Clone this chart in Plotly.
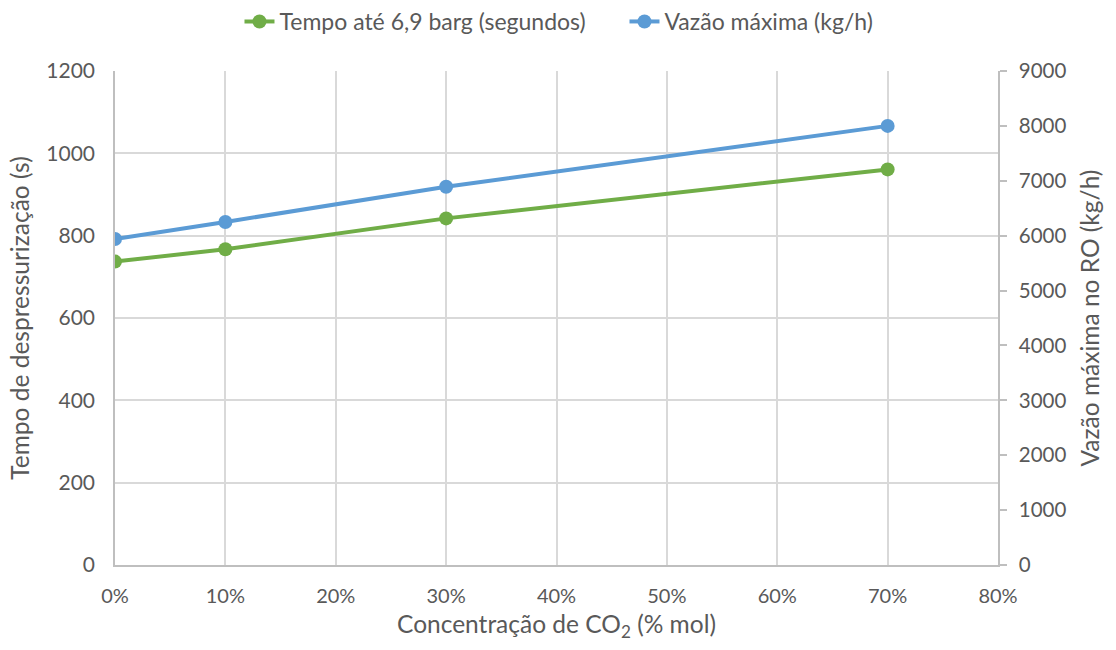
import plotly.graph_objects as go

co2 = [0.0, 0.10, 0.30, 0.70]
tempo = [737, 767, 842, 961]
vazao = [5940, 6250, 6890, 8000]

ff = "Lato"
txt = "#595959"
grid = "#d9d9d9"
axis_line = "#bfbfbf"

def F(size):
    return dict(family=ff, size=size, color=txt)

fig = go.Figure()
fig.add_trace(go.Scatter(x=co2, y=tempo, name="Tempo até 6,9 barg (segundos)",
                         mode="lines+markers", line=dict(color="#70ad47", width=4),
                         marker=dict(size=14, color="#70ad47"), yaxis="y"))
fig.add_trace(go.Scatter(x=co2, y=vazao, name="Vazão máxima (kg/h)",
                         mode="lines+markers", line=dict(color="#5b9bd5", width=4),
                         marker=dict(size=14, color="#5b9bd5"), yaxis="y2"))

fig.update_layout(
    width=1116, height=650,
    margin=dict(l=115, r=118, t=71, b=85),
    paper_bgcolor="white", plot_bgcolor="white",
    font=F(21),
    legend=dict(orientation="h", x=0.577, xanchor="center", y=1.0, yanchor="top",
                yref="container", font=F(23), traceorder="normal",
                entrywidth=340, entrywidthmode="pixels"),
    xaxis=dict(range=[0, 0.8], tickvals=[0, .1, .2, .3, .4, .5, .6, .7, .8], tickformat=".0%",
               showgrid=True, gridcolor=grid, gridwidth=1.5, zeroline=False,
               showline=True, linecolor=axis_line, linewidth=1.5, ticks="outside",
               ticklen=12, tickcolor="rgba(0,0,0,0)",
               title=dict(text="Concentração de CO<sub>2</sub> (% mol)", standoff=10, font=F(24.5)),
               tickfont=F(20)),
    yaxis=dict(range=[0, 1200], dtick=200, showgrid=True, gridcolor=grid, gridwidth=1.5,
               zeroline=False, showline=True, linecolor=axis_line, linewidth=1.5,
               ticks="outside", ticklen=14, tickcolor="rgba(0,0,0,0)",
               title=dict(text="Tempo de despressurização (s)", standoff=10, font=F(24.5)),
               tickfont=F(21)),
    yaxis2=dict(range=[0, 9000], dtick=1000, overlaying="y", side="right",
                showgrid=False, zeroline=False, showline=True, linecolor=axis_line, linewidth=1.5,
                ticks="outside", ticklen=7, tickcolor=axis_line, tickwidth=1.5,
                ticklabelstandoff=8,
                title=dict(text="Vazão máxima no RO (kg/h)", standoff=16, font=F(24.5)),
                tickfont=F(20.5)),
)

fig.write_html("out.html")
